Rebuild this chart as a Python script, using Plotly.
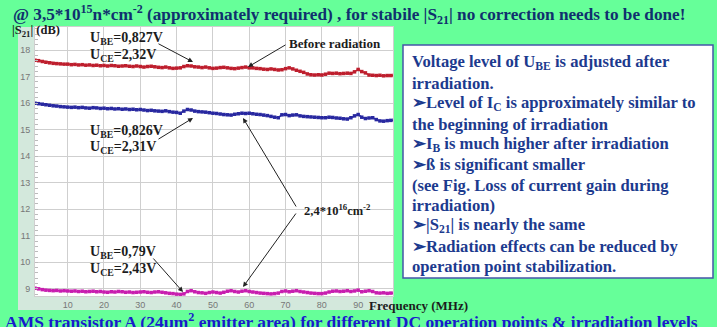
import plotly.graph_objects as go

W, H = 717, 327

freq = list(range(1, 101))

s21_before = [
    17.62, 17.60, 17.57, 17.54, 17.52, 17.50, 17.49, 17.48, 17.47, 17.47,
    17.45, 17.46, 17.44, 17.45, 17.43, 17.44, 17.42, 17.43, 17.41, 17.42,
    17.40, 17.42, 17.41, 17.39, 17.40, 17.41, 17.39, 17.38, 17.40, 17.38,
    17.36, 17.38, 17.39, 17.37, 17.35, 17.34, 17.36, 17.33, 17.31, 17.32,
    17.33, 17.38, 17.41, 17.40, 17.37, 17.36, 17.34, 17.36, 17.33, 17.31,
    17.32, 17.34, 17.35, 17.33, 17.31, 17.30, 17.32, 17.34, 17.36, 17.33,
    17.33, 17.31, 17.30, 17.28, 17.27, 17.29, 17.27, 17.25, 17.26, 17.30,
    17.33, 17.29, 17.24, 17.20, 17.16, 17.10, 17.07, 17.06, 17.07, 17.06,
    17.09, 17.13, 17.12, 17.13, 17.11, 17.12, 17.13, 17.12, 17.18, 17.27,
    17.19, 17.14, 17.06, 17.05, 17.04, 17.05, 17.03, 17.04, 17.04, 17.05,
]

s21_mid = [
    16.00, 15.98, 15.96, 15.94, 15.92, 15.90, 15.89, 15.87, 15.86, 15.85,
    15.84, 15.85, 15.83, 15.84, 15.82, 15.81, 15.83, 15.82, 15.80, 15.81,
    15.79, 15.80, 15.78, 15.79, 15.77, 15.78, 15.76, 15.77, 15.75, 15.76,
    15.74, 15.72, 15.73, 15.71, 15.70, 15.69, 15.71, 15.68, 15.66, 15.65,
    15.62, 15.70, 15.76, 15.74, 15.70, 15.68, 15.67, 15.66, 15.64, 15.62,
    15.61, 15.59, 15.57, 15.56, 15.55, 15.58, 15.60, 15.62, 15.61, 15.62,
    15.60, 15.58, 15.57, 15.55, 15.53, 15.50, 15.47, 15.45, 15.56, 15.57,
    15.53, 15.55, 15.56, 15.52, 15.50, 15.49, 15.48, 15.47, 15.46, 15.45,
    15.45, 15.47, 15.46, 15.44, 15.43, 15.41, 15.40, 15.45, 15.52, 15.57,
    15.47, 15.42, 15.44, 15.45, 15.38, 15.33, 15.32, 15.34, 15.35, 15.36,
]

s21_low = [
    9.02, 9.00, 8.97, 8.95, 8.94, 8.93, 8.94, 8.92, 8.93, 8.92,
    8.91, 8.92, 8.90, 8.91, 8.89, 8.90, 8.91, 8.89, 8.90, 8.88,
    8.87, 8.89, 8.88, 8.90, 8.89, 8.87, 8.88, 8.86, 8.87, 8.88,
    8.89, 8.87, 8.86, 8.88, 8.89, 8.87, 8.85, 8.83, 8.82, 8.80,
    8.79, 8.81, 8.90, 8.93, 8.89, 8.86, 8.85, 8.83, 8.86, 8.88,
    8.86, 8.84, 8.87, 8.91, 8.93, 8.90, 8.88, 8.91, 8.93, 8.90,
    8.88, 8.86, 8.84, 8.83, 8.82, 8.81, 8.82, 8.84, 8.90, 8.92,
    8.89, 8.91, 8.93, 8.90, 8.88, 8.86, 8.84, 8.83, 8.82, 8.82,
    8.84, 8.88, 8.91, 8.92, 8.90, 8.91, 8.93, 8.90, 8.92, 8.95,
    8.89, 8.91, 8.93, 8.90, 8.85, 8.84, 8.85, 8.83, 8.84, 8.84,
]

y_ticks = [9, 10, 11, 12, 13, 14, 15, 16, 17, 18]
x_ticks = [10, 20, 30, 40, 50, 60, 70, 80, 90]

box_lines = [
    "Voltage level of U<sub>BE</sub> is adjusted after",
    "irradiation.",
    "\u27a2Level of I<sub>C</sub> is approximately similar to",
    "the beginning of irradiation",
    "\u27a2I<sub>B</sub> is much higher after irradiation",
    "\u27a2\u00df is significant smaller",
    "(see Fig. Loss of current gain during",
    "irradiation)",
    "\u27a2|S<sub>21</sub>| is nearly the same",
    "\u27a2Radiation effects can be reduced by",
    "operation point stabilization.",
]

title_top = ("@ 3,5*10<sup>15</sup>n*cm<sup>-2</sup> (approximately required) , "
             "for stabile |S<sub>21</sub>| no correction needs to be done!")
title_bottom = ("AMS transistor A (24\u00b5m<sup>2</sup> emitter area) for different "
                "DC operation points &amp; irradiation levels")

SERIF = "Liberation Serif, Times New Roman, serif"


def px(x):
    return x / W


def py(y):
    return 1 - y / H


fig = go.Figure()

series = [
    (s21_before, "rgb(190,30,45)"),
    (s21_mid, "rgb(40,40,160)"),
    (s21_low, "rgb(200,30,175)"),
]
for vals, col in series:
    fig.add_trace(go.Scatter(
        x=freq, y=vals, mode="lines+markers",
        line=dict(color=col, width=1.6),
        marker=dict(symbol="square", size=3.5, color=col),
        hoverinfo="skip", showlegend=False,
    ))

shapes = [
    dict(type="rect", xref="paper", yref="paper", x0=px(18), x1=px(35), y0=py(310), y1=py(27),
         fillcolor="#d3e8dc", line=dict(width=0), layer="below"),
    dict(type="rect", xref="paper", yref="paper", x0=px(35), x1=px(393), y0=py(310), y1=py(296),
         fillcolor="#d3e8dc", line=dict(width=0), layer="below"),
    dict(type="rect", xref="paper", yref="paper", x0=px(403), x1=px(713), y0=py(278), y1=py(45),
         fillcolor="white", line=dict(color="#4656a8", width=1.5), layer="below"),
]

ann = []


def text(t, x, y, size, color="#1c1c1c", xanchor="left", yanchor="middle"):
    ann.append(dict(text=t, x=px(x), y=py(y), xref="paper", yref="paper",
                    xanchor=xanchor, yanchor=yanchor, showarrow=False,
                    font=dict(family=SERIF, size=size, color=color)))


def arrow(x0, y0, x1, y1):
    ann.append(dict(text="", x=px(x1), y=py(y1), xref="paper", yref="paper",
                    ax=x0 - x1, ay=y0 - y1, showarrow=True, arrowhead=2,
                    arrowsize=1, arrowwidth=1, arrowcolor="#222"))


text("<b>" + title_top + "</b>", 11, 0, 17.2, color="#10306e", yanchor="top")
text("<b>" + title_bottom + "</b>", 3, 321, 17.5, color="#1a1acc")

text("<b>|S<sub>21</sub>| (dB)</b>", 10, 31, 12.5)
text("<b>U<sub>BE</sub>=0,827V</b>", 88, 39, 14)
text("<b>U<sub>CE</sub>=2,32V</b>", 88, 56, 14)
text("<b>U<sub>BE</sub>=0,826V</b>", 88, 131, 14)
text("<b>U<sub>CE</sub>=2,31V</b>", 88, 147, 14)
text("<b>U<sub>BE</sub>=0,79V</b>", 88, 253, 14)
text("<b>U<sub>CE</sub>=2,43V</b>", 88, 269, 14)
text("<b>Before radiation</b>", 287, 44, 13)
text("<b>2,4*10<sup>16</sup>cm<sup>-2</sup></b>", 302, 210, 12.5)
text("<b>Frequency (MHz)</b>", 367, 305, 13)

arrow(157, 43, 193, 62)
arrow(157, 140, 193, 118)
arrow(287, 44, 248, 67)
arrow(297, 208, 243, 118)
arrow(297, 212, 243, 287)
arrow(152, 257, 183, 292)

for i, line in enumerate(box_lines):
    text("<b>" + line + "</b>", 410, 63 + i * 20.35, 16.6, color="#1c3a8e")

fig.update_layout(
    width=W, height=H,
    margin=dict(l=0, r=0, t=0, b=0),
    paper_bgcolor="#66ff99",
    plot_bgcolor="white",
    shapes=shapes,
    annotations=ann,
    xaxis=dict(
        domain=[px(35), px(393)], range=[1.0, 99.6],
        tickvals=x_ticks, ticktext=[str(v) for v in x_ticks],
        showgrid=True, gridcolor="#cfcfcf", gridwidth=1,
        zeroline=False, showline=True, linecolor="#cfcfcf", mirror=True,
        tickfont=dict(family="Liberation Sans, Arial", size=9, color="#777"),
        ticks="",
    ),
    yaxis=dict(
        domain=[py(296), py(27)], range=[8.73, 18.87],
        tickvals=y_ticks, ticktext=[str(v) for v in y_ticks],
        showgrid=True, gridcolor="#cfcfcf", gridwidth=1,
        zeroline=False, showline=True, linecolor="#cfcfcf", mirror=True,
        tickfont=dict(family="Liberation Sans, Arial", size=9, color="#777"),
        ticks="", ticklabelstandoff=2,
        minor=dict(ticks="inside", ticklen=3, dtick=0.2, tickcolor="#bbbbbb", showgrid=False),
    ),
)

fig.write_html("out.html")
